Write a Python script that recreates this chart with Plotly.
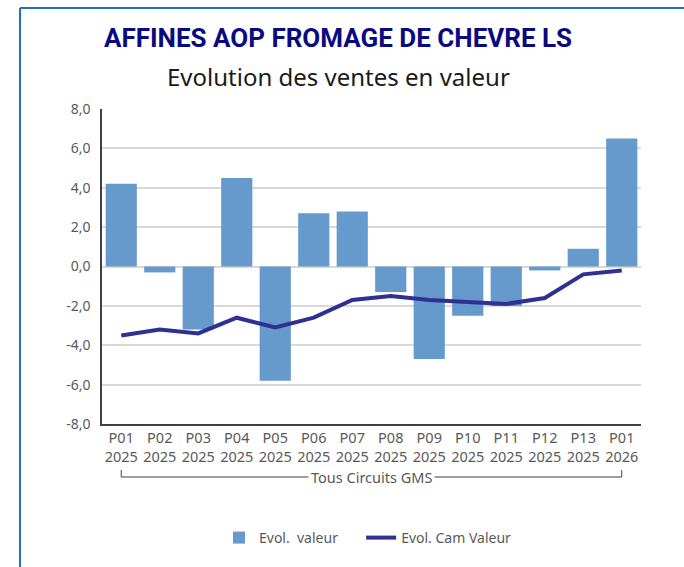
import plotly.graph_objects as go

# Periods on the x axis
periodes = ["P01", "P02", "P03", "P04", "P05", "P06", "P07",
            "P08", "P09", "P10", "P11", "P12", "P13", "P01"]
annees = ["2025"] * 13 + ["2026"]
categories = [f"{p}<br>{a}" for p, a in zip(periodes, annees)]

# Series (%)
evol_valeur = [4.2, -0.3, -3.2, 4.5, -5.8, 2.7, 2.8,
               -1.3, -4.7, -2.5, -2.0, -0.2, 0.9, 6.5]
evol_cam_valeur = [-3.5, -3.2, -3.4, -2.6, -3.1, -2.6, -1.7,
                   -1.5, -1.7, -1.8, -1.9, -1.6, -0.4, -0.2]

y_ticks = [-8, -6, -4, -2, 0, 2, 4, 6, 8]
y_labels = ["-8,0", "-6,0", "-4,0", "-2,0", "0,0", "2,0", "4,0", "6,0", "8,0"]

W, H = 684, 567
L, R, T, B = 102, 43, 109, 143
pw, ph = W - L - R, H - T - B


def px_x(x):
    return (x - L) / pw


def px_y(y):
    return (H - B - y) / ph


GRAY = "#595959"
FONT = "Noto Sans"
NBSP = "\u00a0"

fig = go.Figure()
fig.add_trace(go.Bar(
    x=categories, y=evol_valeur,
    name="Evol." + NBSP * 2 + "valeur" + NBSP * 5,
    marker=dict(color="#6699CC", line=dict(width=0)),
))
fig.add_trace(go.Scatter(
    x=categories, y=evol_cam_valeur, name="Evol. Cam Valeur",
    mode="lines", line=dict(color="#2E3192", width=4),
))

shapes = [
    # frame
    dict(type="line", xref="paper", yref="paper",
         x0=px_x(20), x1=px_x(690), y0=px_y(8), y1=px_y(8),
         line=dict(color="#1F6FC5", width=2)),
    dict(type="line", xref="paper", yref="paper",
         x0=px_x(20), x1=px_x(20), y0=px_y(8), y1=px_y(575),
         line=dict(color="#1F6FC5", width=2)),
    # group bracket under the period labels
    dict(type="line", xref="x", yref="paper",
         x0=0, x1=len(categories) - 1, y0=px_y(477), y1=px_y(477),
         line=dict(color="#404040", width=1)),
    dict(type="line", xref="x", yref="paper",
         x0=0, x1=0, y0=px_y(470), y1=px_y(477),
         line=dict(color="#404040", width=1)),
    dict(type="line", xref="x", yref="paper",
         x0=len(categories) - 1, x1=len(categories) - 1,
         y0=px_y(470), y1=px_y(477),
         line=dict(color="#404040", width=1)),
]

annotations = [
    dict(text="<b>AFFINES AOP FROMAGE DE CHEVRE LS</b>",
         xref="paper", yref="paper", x=px_x(338), y=px_y(38),
         xanchor="center", yanchor="middle", showarrow=False,
         font=dict(family="Roboto", size=26, color="#0A0A80")),
    dict(text="Evolution des ventes en valeur",
         xref="paper", yref="paper", x=px_x(338), y=px_y(77),
         xanchor="center", yanchor="middle", showarrow=False,
         font=dict(family=FONT, size=24, color="#1A1A1A")),
    dict(text="Tous Circuits GMS",
         xref="paper", yref="paper", x=px_x(371.5), y=px_y(477),
         xanchor="center", yanchor="middle", showarrow=False,
         bgcolor="white", borderpad=2,
         font=dict(family=FONT, size=14.5, color=GRAY)),
]

fig.update_layout(
    width=W, height=H,
    margin=dict(l=L, r=R, t=T, b=B),
    paper_bgcolor="white", plot_bgcolor="white",
    bargap=0.19,
    font=dict(family=FONT, size=14, color=GRAY),
    shapes=shapes,
    annotations=annotations,
    showlegend=True,
    legend=dict(orientation="h", x=px_x(219), y=px_y(538),
                xanchor="left", yanchor="middle",
                font=dict(family=FONT, size=14, color=GRAY),
                bgcolor="rgba(0,0,0,0)"),
)

fig.update_xaxes(
    type="category", showgrid=False, ticks="",
    showline=True, linecolor="#404040", linewidth=1.5,
    tickfont=dict(family=FONT, size=14.5, color=GRAY),
    range=[-0.5, len(categories) - 0.5],
)
fig.update_yaxes(
    range=[-8, 8], tickvals=y_ticks, ticktext=y_labels,
    showgrid=True, gridcolor="#D9D9D9", gridwidth=1.5,
    zeroline=True, zerolinecolor="#D9D9D9", zerolinewidth=2,
    showline=True, linecolor="#404040", linewidth=1.5,
    ticks="", ticklabelstandoff=7,
    tickfont=dict(family=FONT, size=14, color=GRAY),
)

fig.write_html("out.html")
